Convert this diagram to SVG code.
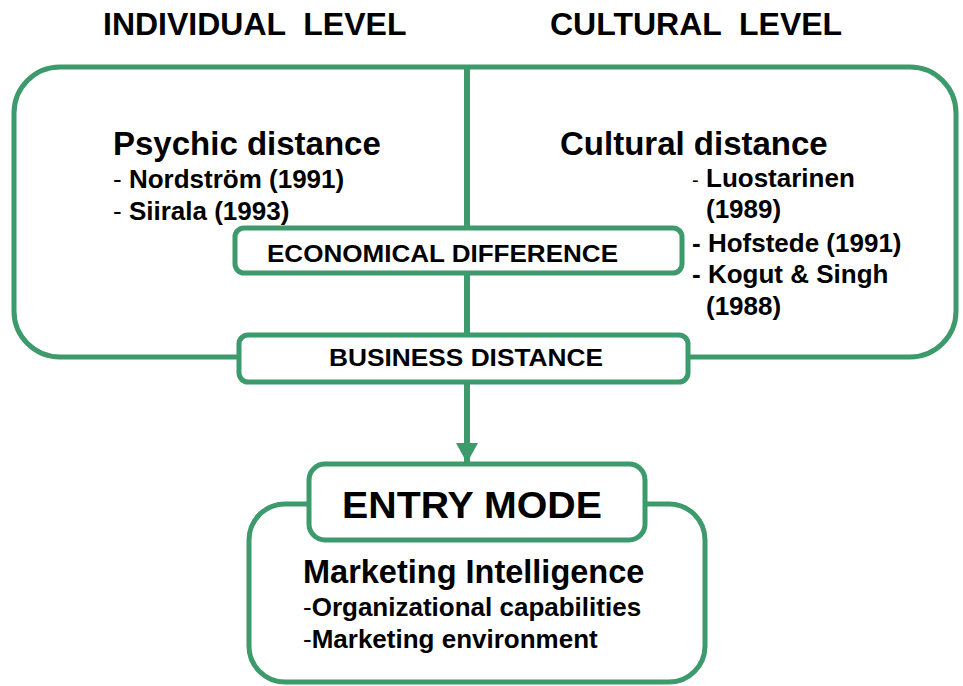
<svg xmlns="http://www.w3.org/2000/svg" width="963" height="686" viewBox="0 0 963 686">
  <style>
    .frame { fill: #ffffff; stroke: #3d9a6c; stroke-width: 5; }
    .open { fill: none; stroke: #3d9a6c; stroke-width: 5; }
    .link { fill: none; stroke: #3d9a6c; stroke-width: 6; }
    text { font-family: "Liberation Sans", Arial, sans-serif; fill: #000000; font-weight: bold; }
    .head { font-size: 32px; }
    .title { font-size: 33px; }
    .item { font-size: 26px; }
    .dash { font-weight: normal; }
    .label { font-size: 24.5px; }
  </style>
  <defs>
    <marker id="arrow" markerUnits="userSpaceOnUse" markerWidth="22" markerHeight="22" refX="20" refY="11" orient="auto">
      <path d="M0,0 L20,11 L0,22 Z" fill="#3d9a6c"/>
    </marker>
  </defs>

  <rect width="963" height="686" fill="#ffffff"/>

  <!-- column headings -->
  <text class="head" x="103" y="35" xml:space="preserve">INDIVIDUAL  LEVEL</text>
  <text class="head" x="550" y="35" xml:space="preserve">CULTURAL  LEVEL</text>

  <!-- outer frame holding both levels -->
  <g id="levels">
    <rect class="open" x="14" y="67" width="942" height="290" rx="46" ry="46"/>
  </g>

  <!-- connectors -->
  <g id="connectors">
    <line class="link" x1="467" y1="67" x2="467" y2="335"/>
    <line class="link" x1="467" y1="382" x2="467" y2="463" marker-end="url(#arrow)"/>
  </g>

  <g id="psychic">
    <text class="title" x="113" y="155">Psychic distance</text>
    <text class="item" x="113" y="188"><tspan class="dash">- </tspan>Nordström (1991)</text>
    <text class="item" x="113" y="220"><tspan class="dash">- </tspan>Siirala (1993)</text>
  </g>

  <g id="cultural">
    <text class="title" x="560" y="155">Cultural distance</text>
    <text class="item" x="692" y="187"><tspan class="dash" font-size="20">-</tspan><tspan x="706">Luostarinen</tspan></text>
    <text class="item" x="706" y="218">(1989)</text>
    <text class="item" x="692" y="252">- Hofstede (1991)</text>
    <text class="item" x="692" y="283">- Kogut &amp; Singh</text>
    <text class="item" x="706" y="315">(1988)</text>
  </g>

  <g id="economical">
    <rect class="frame" x="235" y="228" width="447" height="45" rx="9" ry="9"/>
    <text class="label" x="267" y="262" textLength="351" lengthAdjust="spacingAndGlyphs">ECONOMICAL DIFFERENCE</text>
  </g>

  <g id="business">
    <rect class="frame" x="239" y="335" width="449" height="47" rx="9" ry="9"/>
    <text class="label" x="329" y="366" textLength="274" lengthAdjust="spacingAndGlyphs">BUSINESS DISTANCE</text>
  </g>

  <g id="intelligence">
    <rect class="frame" x="249" y="504" width="456" height="178" rx="36" ry="36"/>
    <text x="303" y="583" font-size="32.5">Marketing Intelligence</text>
    <text class="item" x="303" y="616"><tspan class="dash">-</tspan>Organizational capabilities</text>
    <text class="item" x="303" y="648"><tspan class="dash">-</tspan>Marketing environment</text>
  </g>

  <g id="entry-mode">
    <rect class="frame" x="309" y="464" width="336" height="76" rx="16" ry="16"/>
    <text x="342" y="518" font-size="37" textLength="260" lengthAdjust="spacingAndGlyphs">ENTRY MODE</text>
  </g>
</svg>
